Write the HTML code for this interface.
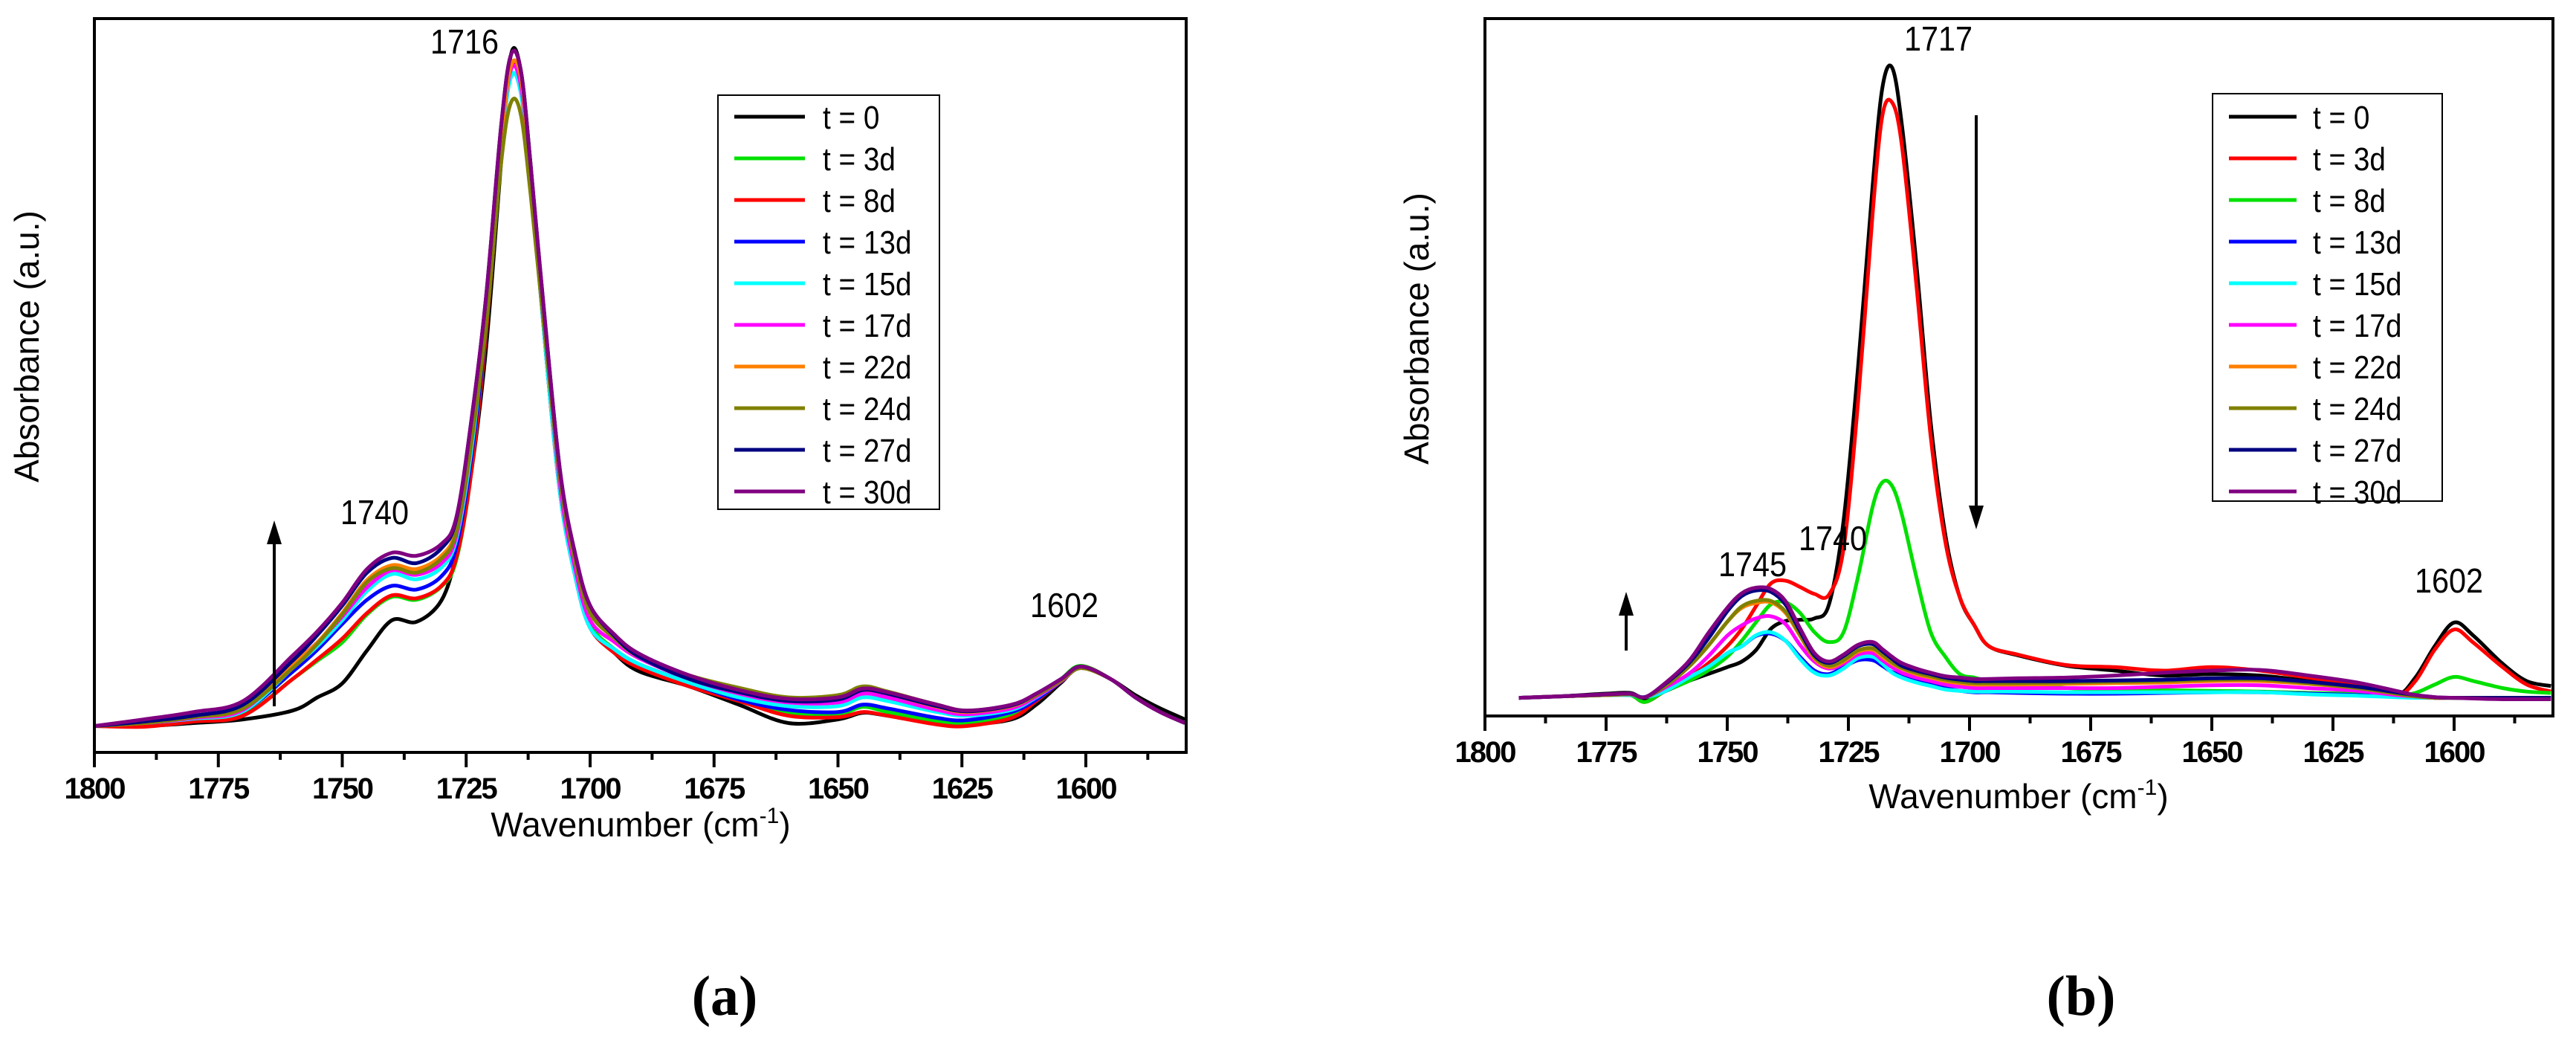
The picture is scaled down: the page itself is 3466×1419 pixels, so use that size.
<!DOCTYPE html>
<html><head><meta charset="utf-8"><style>
html,body{margin:0;padding:0;background:#fff;}
svg{display:block;}
text{font-family:"Liberation Sans",sans-serif;}
</style></head><body>
<svg id="fig" width="3466" height="1419" viewBox="0 0 3466 1419" xmlns="http://www.w3.org/2000/svg"></svg>
<script>
// ---------- Panel (a) data ----------
const labelsA = ["t = 0","t = 3d","t = 8d","t = 13d","t = 15d","t = 17d","t = 22d","t = 24d","t = 27d","t = 30d"];
const colorsA = ["#000000","#00e000","#ff0000","#0000ff","#00ffff","#ff00ff","#ff8000","#808000","#000080","#800080"];
const wnA = [1800,1790,1780,1770,1760,1755,1750,1745,1740,1735,1730,1727,1724,1721,1718,1716,1714,1712,1709,1706,1703,1700,1695,1690,1680,1670,1660,1650,1645,1640,1630,1624,1615,1610,1605,1601,1595,1590,1585,1580];
const a_t0  = [.036,.036,.04,.045,.057,.075,.094,.139,.18,.178,.207,.27,.38,.55,.8,.95,.93,.8,.56,.36,.25,.175,.135,.11,.09,.065,.04,.045,.054,.05,.04,.038,.045,.065,.095,.117,.1,.078,.06,.045];
const a_t3  = [.036,.037,.043,.051,.1,.125,.15,.188,.212,.208,.226,.262,.38,.57,.81,.93,.91,.79,.56,.36,.25,.175,.14,.118,.092,.07,.053,.052,.062,.055,.042,.04,.05,.072,.1,.118,.1,.075,.055,.04];
const a_t8  = [.036,.035,.042,.05,.1,.127,.155,.19,.214,.21,.227,.265,.38,.57,.81,.93,.91,.79,.55,.35,.24,.17,.135,.115,.09,.07,.05,.048,.055,.05,.038,.036,.047,.07,.097,.117,.1,.075,.055,.04];
const a_t13 = [.036,.04,.046,.056,.11,.14,.175,.208,.227,.222,.24,.28,.4,.58,.82,.92,.9,.78,.55,.35,.24,.17,.14,.12,.095,.072,.058,.055,.065,.06,.047,.044,.055,.072,.097,.115,.1,.075,.055,.04];
const a_t15 = [.036,.04,.046,.056,.115,.145,.18,.22,.243,.236,.252,.29,.41,.59,.82,.92,.9,.78,.55,.35,.24,.17,.14,.12,.095,.075,.063,.063,.075,.07,.055,.05,.058,.075,.097,.115,.1,.075,.055,.04];
const a_t17 = [.036,.04,.047,.058,.12,.15,.185,.225,.248,.242,.258,.295,.42,.6,.83,.93,.91,.79,.57,.36,.25,.18,.15,.128,.1,.08,.068,.068,.08,.075,.058,.052,.06,.076,.097,.115,.1,.075,.055,.04];
const a_t22 = [.036,.04,.048,.06,.12,.15,.19,.235,.255,.25,.268,.305,.43,.6,.83,.935,.92,.79,.57,.37,.26,.19,.155,.13,.105,.085,.072,.075,.085,.08,.062,.055,.063,.078,.098,.115,.1,.075,.055,.04];
const a_t24 = [.036,.04,.048,.06,.115,.148,.188,.232,.251,.245,.264,.3,.42,.58,.8,.885,.87,.76,.56,.37,.26,.19,.155,.13,.105,.088,.075,.078,.09,.083,.065,.057,.064,.078,.098,.115,.1,.075,.055,.04];
const a_t27 = [.036,.042,.05,.065,.125,.16,.2,.245,.265,.258,.278,.318,.45,.62,.85,.95,.93,.8,.58,.38,.27,.2,.158,.13,.1,.082,.07,.072,.085,.08,.063,.056,.064,.08,.1,.117,.1,.075,.055,.04];
const a_t30 = [.036,.045,.055,.07,.132,.165,.204,.25,.272,.268,.284,.32,.45,.62,.85,.95,.93,.8,.58,.38,.27,.2,.16,.134,.105,.085,.073,.075,.087,.082,.065,.057,.065,.08,.1,.117,.1,.075,.055,.04];
const seriesA = [a_t0,a_t3,a_t8,a_t13,a_t15,a_t17,a_t22,a_t24,a_t27,a_t30];

// ---------- Panel (b) data ----------
const labelsB = ["t = 0","t = 3d","t = 8d","t = 13d","t = 15d","t = 17d","t = 22d","t = 24d","t = 27d","t = 30d"];
const colorsB = ["#000000","#ff0000","#00e000","#0000ff","#00ffff","#ff00ff","#ff8000","#808000","#000080","#800080"];
const wnB = [1793,1785,1775,1770,1767,1763,1758,1754,1750,1747,1744,1741,1738,1735,1732,1729,1726,1723,1720,1718,1716,1714,1711,1708,1705,1702,1699,1696,1690,1680,1670,1660,1650,1640,1630,1620,1612,1608,1604,1600,1596,1590,1585,1580];
const b_t0  = [.026,.028,.032,.033,.025,.035,.05,.06,.07,.078,.095,.125,.136,.138,.14,.16,.28,.5,.76,.9,.93,.85,.65,.42,.26,.17,.13,.1,.087,.072,.065,.058,.06,.058,.05,.04,.03,.055,.1,.134,.115,.075,.05,.043];
const b_t3  = [.026,.028,.03,.03,.02,.035,.055,.075,.1,.125,.158,.19,.194,.185,.175,.174,.24,.45,.72,.86,.88,.82,.62,.4,.25,.17,.13,.1,.088,.073,.07,.065,.07,.065,.055,.045,.03,.05,.095,.124,.105,.07,.045,.035];
const b_t8  = [.026,.028,.03,.03,.02,.035,.05,.065,.085,.108,.135,.16,.163,.148,.12,.106,.12,.2,.3,.335,.33,.29,.2,.12,.085,.06,.055,.05,.045,.04,.038,.037,.036,.035,.033,.032,.03,.033,.045,.056,.05,.04,.035,.033];
const b_t13 = [.026,.028,.03,.03,.027,.035,.055,.07,.09,.1,.115,.118,.108,.085,.065,.06,.07,.08,.08,.072,.063,.058,.05,.045,.04,.036,.034,.034,.033,.032,.032,.033,.034,.034,.032,.03,.028,.027,.026,.026,.026,.026,.026,.026];
const b_t15 = [.026,.028,.03,.03,.027,.035,.055,.07,.09,.1,.116,.12,.108,.082,.062,.058,.068,.083,.085,.075,.062,.055,.048,.043,.038,.036,.035,.035,.035,.034,.034,.034,.034,.034,.031,.029,.027,.026,.026,.026,.026,.026,.026,.026];
const b_t17 = [.026,.028,.03,.031,.027,.04,.06,.085,.115,.13,.14,.143,.132,.102,.078,.068,.075,.088,.09,.08,.07,.062,.055,.05,.045,.042,.04,.04,.04,.04,.04,.042,.044,.044,.04,.036,.03,.028,.026,.026,.026,.026,.026,.026];
const b_t22 = [.026,.028,.03,.031,.027,.042,.07,.1,.135,.155,.162,.163,.148,.115,.082,.07,.078,.092,.095,.085,.075,.068,.06,.055,.05,.047,.045,.045,.045,.046,.047,.048,.05,.05,.046,.04,.032,.028,.026,.026,.026,.026,.026,.026];
const b_t24 = [.026,.028,.03,.031,.027,.042,.07,.1,.135,.157,.165,.165,.15,.117,.084,.072,.08,.094,.097,.088,.077,.069,.062,.057,.052,.049,.047,.047,.047,.048,.049,.05,.052,.052,.047,.04,.032,.028,.026,.026,.026,.026,.026,.026];
const b_t27 = [.026,.028,.031,.032,.027,.045,.075,.11,.15,.172,.18,.178,.16,.122,.087,.076,.086,.1,.103,.093,.082,.072,.065,.06,.055,.052,.05,.05,.05,.05,.051,.052,.054,.054,.049,.042,.034,.03,.027,.026,.026,.026,.026,.026];
const b_t30 = [.026,.028,.031,.032,.027,.046,.078,.118,.155,.176,.184,.182,.165,.126,.09,.078,.088,.102,.106,.096,.085,.076,.068,.062,.057,.055,.053,.053,.054,.055,.058,.062,.065,.066,.058,.048,.036,.03,.027,.026,.025,.024,.024,.024];
const seriesB = [b_t0,b_t3,b_t8,b_t13,b_t15,b_t17,b_t22,b_t24,b_t27,b_t30];

const tickValues = [1800,1775,1750,1725,1700,1675,1650,1625,1600];
const minorTickValues = [1787.5,1762.5,1737.5,1712.5,1687.5,1662.5,1637.5,1612.5,1587.5];

const NS = "http://www.w3.org/2000/svg";
const svg = document.getElementById('fig');
function mk(tag, attrs, parent){
  const e = document.createElementNS(NS, tag);
  for (const k in attrs) e.setAttribute(k, attrs[k]);
  (parent||svg).appendChild(e);
  return e;
}
function smoothPath(pts){
  let d = "M" + pts[0][0].toFixed(1) + "," + pts[0][1].toFixed(1);
  for (let i=0;i<pts.length-1;i++){
    const p0 = pts[Math.max(0,i-1)], p1 = pts[i], p2 = pts[i+1], p3 = pts[Math.min(pts.length-1,i+2)];
    const c1x = p1[0] + (p2[0]-p0[0])/6, c1y = p1[1] + (p2[1]-p0[1])/6;
    const c2x = p2[0] - (p3[0]-p1[0])/6, c2y = p2[1] - (p3[1]-p1[1])/6;
    d += " C" + c1x.toFixed(1)+","+c1y.toFixed(1)+" "+c2x.toFixed(1)+","+c2y.toFixed(1)+" "+p2[0].toFixed(1)+","+p2[1].toFixed(1);
  }
  return d;
}

function panel(cfg){
  const g = mk('g', {});
  
  
  const xs = v => cfg.x1800 + (1800 - v) * cfg.pxPer;
  const ys = v => cfg.bottom - v * (cfg.bottom - cfg.top);
  const cp = mk('clipPath', {id: cfg.name + '-clip'}, g);
  mk('rect', {x: cfg.left, y: cfg.top, width: cfg.right - cfg.left, height: cfg.bottom - cfg.top}, cp);
  const sg = mk('g', {'clip-path': 'url(#' + cfg.name + '-clip)'}, g);
  cfg.series.forEach((arr, i) => {
    const pts = arr.map((v, j) => [xs(cfg.wn[j]), ys(v)]);
    const p = mk('path', {d: smoothPath(pts), fill: 'none', stroke: cfg.colors[i], 'stroke-width': 5, 'stroke-linejoin': 'round'}, sg);
    
    
  });
  const fr = mk('rect', {x: cfg.left, y: cfg.top, width: cfg.right - cfg.left, height: cfg.bottom - cfg.top, fill: 'none', stroke: '#000', 'stroke-width': 4}, g);
  
  
  tickValues.forEach(t => {
    const x = xs(t);
    mk('line', {x1: x, y1: cfg.bottom, x2: x, y2: cfg.bottom + 20, stroke: '#000', 'stroke-width': 4}, g);
    const tl = mk('text', {x: x, y: cfg.bottom + 62, 'text-anchor': 'middle', 'font-size': 40, 'font-weight': 'bold', fill: '#000', 'letter-spacing': '-2'}, g);
    tl.textContent = t;
    
    
  });
  minorTickValues.forEach(t => {
    const x = xs(t);
    if (x < cfg.right) mk('line', {x1: x, y1: cfg.bottom, x2: x, y2: cfg.bottom + 10, stroke: '#000', 'stroke-width': 4}, g);
  });
  const xt = mk('text', {x: cfg.xTitle[0], y: cfg.xTitle[1], 'text-anchor': 'middle', 'font-size': 46, fill: '#000'}, g);
  xt.innerHTML = 'Wavenumber (cm<tspan dy="-18" font-size="30">-1</tspan><tspan dy="18">)</tspan>';
  
  
  const yt = mk('text', {x: 0, y: 0, 'text-anchor': 'middle', 'font-size': 46, fill: '#000', transform: 'translate(' + cfg.yTitle[0] + ',' + cfg.yTitle[1] + ') rotate(-90)'}, g);
  yt.textContent = 'Absorbance (a.u.)';
  
  
  const lg = mk('g', {}, g);
  
  
  mk('rect', {x: cfg.legend.x, y: cfg.legend.y, width: cfg.legend.w, height: cfg.legend.h, fill: '#fff', stroke: '#000', 'stroke-width': 2}, lg);
  cfg.labels.forEach((lab, i) => {
    const y = cfg.legend.y0 + i * cfg.legend.step;
    const eg = mk('g', {}, lg);
    
    
    mk('line', {x1: cfg.legend.lx1, y1: y, x2: cfg.legend.lx2, y2: y, stroke: cfg.colors[i], 'stroke-width': 5}, eg);
    const tx = mk('text', {x: 0, y: 0, 'font-size': 44, fill: '#000', transform: 'translate(' + cfg.legend.tx + ',' + (y + 16) + ') scale(0.88,1)'}, eg);
    tx.textContent = lab;
  });
  cfg.annots.forEach(a => {
    const t = mk('text', {x: 0, y: 0, 'text-anchor': 'middle', 'font-size': 46, fill: '#000', transform: 'translate(' + a[1] + ',' + a[2] + ') scale(0.9,1)'}, g);
    t.textContent = a[0];
    
    
  });
  cfg.arrows.forEach(ar => {
    const [x, y1, y2] = ar;
    const dir = y2 < y1 ? 1 : -1;
    const ag = mk('g', {}, g);
    
    
    mk('line', {x1: x, y1: y1, x2: x, y2: y2 + dir * 25, stroke: '#000', 'stroke-width': 4}, ag);
    mk('polygon', {points: x + ',' + y2 + ' ' + (x - 10) + ',' + (y2 + dir * 32) + ' ' + (x + 10) + ',' + (y2 + dir * 32), fill: '#000'}, ag);
  });
  const pl = mk('text', {x: cfg.panelLabel[0], y: cfg.panelLabel[1], 'text-anchor': 'middle', fill: '#000', style: 'font-family:"Liberation Serif",serif;font-weight:bold;font-size:76px;'}, g);
  pl.textContent = cfg.panelLabel[2];
  
  
}

panel({
  name: 'panel-a', series: seriesA, wn: wnA, colors: colorsA, labels: labelsA,
  left: 127, right: 1596, top: 25, bottom: 1012, x1800: 127, pxPer: 6.67,
  xTitle: [862, 1125], yTitle: [52, 466], panelLabel: [975, 1365, '(a)'],
  legend: {x: 966, y: 128, w: 298, h: 557, y0: 157, step: 56, lx1: 988, lx2: 1083, tx: 1107},
  annots: [['1716', 625, 72], ['1740', 504, 705], ['1602', 1432, 830]],
  arrows: [[369, 950, 700]]
});
panel({
  name: 'panel-b', series: seriesB, wn: wnB, colors: colorsB, labels: labelsB,
  left: 1998, right: 3435, top: 25, bottom: 963, x1800: 1998, pxPer: 6.52,
  xTitle: [2716, 1087], yTitle: [1922, 442], panelLabel: [2800, 1365, '(b)'],
  legend: {x: 2977, y: 126, w: 309, h: 548, y0: 157, step: 56, lx1: 2999, lx2: 3090, tx: 3112},
  annots: [['1717', 2608, 68], ['1740', 2466, 740], ['1745', 2358, 775], ['1602', 3295, 797]],
  arrows: [[2659, 155, 712], [2188, 875, 796]]
});
</script>
</body></html>
